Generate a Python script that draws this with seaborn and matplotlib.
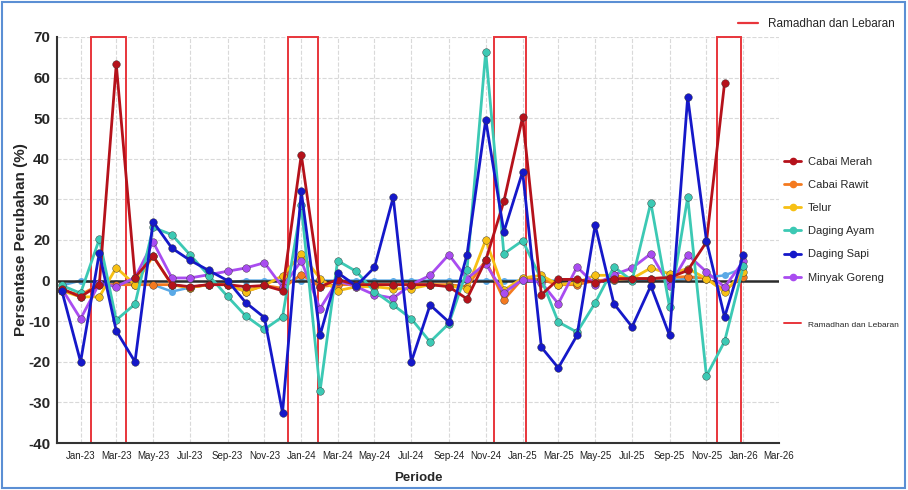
import numpy as np
import pandas as pd
import matplotlib
matplotlib.use("Agg")
import matplotlib.pyplot as plt
import matplotlib.dates as mdates
from matplotlib.lines import Line2D
from matplotlib.patches import Rectangle
import seaborn as sns

# =========================
#  Data (perubahan bulanan, %)
# =========================
bulan = pd.date_range("2022-12-01", "2026-01-01", freq="MS")

cabai_merah = [-2, -4, -1, 63.3, 1.5, 12, -1, -1.5, -1, -1, -1.5, -1.2, -2.5,
               41, -1.5, 0.5, -1, -1, -1, -1, -1, -1.5, -4.5, 10, 29.5,
               50.3, -3.5, 0.6, 0.6, -0.5, 1, 1, 1, 1.5, 5, 19, 58.7, np.nan]
cabai_rawit = [-2.5, -3.5, -1, -1, -1, -1, -1, -1.7, -1, -1, -2.7, -1.2, -1.9,
               3, -1.5, -1, -1, -1, -1, -1, -1, -1, -1.5, 10, -4.7,
               1, 0.5, -1, -1, 0, 0.5, 1, 1, 1.5, 2, 1, -2.4, 2]
telur = [-2.5, -4, -4, 6.4, -1, 12.1, -1.1, -1.7, -1, -1, -2.7, -1.2, 2.4,
         13.2, 1, -2.5, -1.5, -1.5, -2, -2, -1, -1.3, -2, 20, -2.4,
         1.3, 2.6, -1, -0.5, 2.6, 2.6, 1, 6.2, 3.4, 5.9, 1, -2.8, 4.3]
daging_ayam = [-1.2, -3.1, 20.2, -9.7, -5.8, 23.1, 21.3, 12.7, 2.5, -3.9, -8.7, -12, -8.9,
               28.5, -27.2, 9.8, 4.5, -2.7, -6, -9.4, -15.1, -10.6, 5, 66.4, 13.2,
               19.7, 0.6, -10.2, -12.7, -5.5, 6.7, 0, 29.2, -6.5, 30.5, -23.5, -15, 7]
daging_sapi = [-2.5, -20, 13.7, -12.4, -20, 24.5, 16, 10, 5, 0, -5.4, -9.1, -32.5,
               32, -13.5, 3.9, -1.3, 6.5, 30.5, -20, -6, -10.2, 12.7, 49.6, 22,
               36.8, -16.4, -21.5, -13.5, 23.7, -5.7, -11.4, -1.3, -13.5, 55.2, 19.7, -9, 12.7]
minyak_goreng = [-2, -9.4, -0.7, -1.5, 1.5, 19, 1.3, 1.3, 2.9, 4.6, 6.2, 8.8, -1.6,
                 9.7, -6.9, 0, -1.5, -3.5, -4.3, -1, 2.6, 12.8, 1, 8.3, -3,
                 0.5, -0.5, -5.7, 6.7, -1, 2.9, 6.2, 13.2, -1.3, 12.7, 4.3, -1.6, 9.5]
# garis biru muda tanpa label di legenda
lainnya = [-1.2, 0, -0.5, -0.5, -1, -1, -2.7, -1.7, -1, -0.5, 0, 0, 0,
           0, 0, 0, 0, 0, 0, 0, 0, 0, 0, 0, 0,
           0, 0, 0, 0, 0, 0, 0, 0, 0, 1, 1.5, 2.6, 6]

ramadhan = [("2023-01-18", "2023-03-17"), ("2023-12-10", "2024-01-28"),
            ("2024-11-14", "2025-01-07"), ("2025-11-18", "2025-12-28")]

series = {
    "Cabai Merah": cabai_merah,
    "Cabai Rawit": cabai_rawit,
    "Telur": telur,
    "Daging Ayam": daging_ayam,
    "Daging Sapi": daging_sapi,
    "Minyak Goreng": minyak_goreng,
}
colors = {
    "Cabai Merah": "#b5121b",
    "Cabai Rawit": "#f47a1f",
    "Telur": "#f7c014",
    "Daging Ayam": "#3cc9b4",
    "Daging Sapi": "#1518c9",
    "Minyak Goreng": "#a94cf0",
    "lainnya": "#5aa9e6",
}

df = pd.DataFrame({"bulan": np.tile(bulan, len(series)),
                   "komoditas": np.repeat(list(series), len(bulan)),
                   "nilai": np.concatenate([series[k] for k in series])})

# =========================
#  Plot
# =========================
sns.set_style("white")
plt.rcParams["font.family"] = ["Liberation Sans", "DejaVu Sans"]

fig = plt.figure(figsize=(9.08, 4.90), dpi=100)
ax = fig.add_axes([57 / 908, 47 / 490, 722 / 908, 406 / 490])


# the 0..20 band of the y axis is drawn at half scale, as in the source chart
def fwd(v):
    v = np.asarray(v, dtype=float)
    return np.where(v <= 0, v, np.where(v <= 20, v / 2, v - 10))


def inv(u):
    u = np.asarray(u, dtype=float)
    return np.where(u <= 0, u, np.where(u <= 10, u * 2, u + 10))


ax.set_yscale("function", functions=(fwd, inv))

for a, b in ramadhan:
    ax.axvspan(pd.Timestamp(a), pd.Timestamp(b), facecolor="none",
               edgecolor="#e8353b", lw=1.4, zorder=2, clip_on=False)

ax.axhline(0, color="#2b2b2b", lw=1.8, zorder=2.5)

sns.lineplot(x=bulan, y=lainnya, ax=ax, color=colors["lainnya"], lw=1.8,
             marker="o", markersize=5, markeredgewidth=0, zorder=2.4)

for name in ["Cabai Rawit", "Telur", "Minyak Goreng", "Daging Ayam", "Cabai Merah", "Daging Sapi"]:
    d = df[df["komoditas"] == name].dropna()
    sns.lineplot(data=d, x="bulan", y="nilai", ax=ax, color=colors[name], lw=2,
                 marker="o", markersize=5.5, markeredgecolor="#333333",
                 markeredgewidth=0.3, zorder=3)

ax.set_ylim(-40, 70)
ax.set_yticks([70, 60, 50, 40, 30, 20, 0, -10, -20, -30, -40])
ax.set_yticklabels(["70", "60", "50", "40", "30", "20", "0", "-10", "-20", "-30", "-40"])
ax.set_xlim(pd.Timestamp("2022-11-23"), pd.Timestamp("2026-03-01"))
ax.xaxis.set_major_locator(mdates.MonthLocator(bymonth=[1, 3, 5, 7, 9, 11]))
ax.xaxis.set_major_formatter(mdates.DateFormatter("%b-%y"))

ax.grid(True, ls="--", color="#d9d9d9", lw=0.8)
ax.set_axisbelow(True)
for s in ["top", "right"]:
    ax.spines[s].set_visible(False)
for s in ["left", "bottom"]:
    ax.spines[s].set_color("#333333")
    ax.spines[s].set_linewidth(1.5)
ax.tick_params(axis="y", labelsize=11, direction="inout", length=6, width=1.2,
               color="#333333", pad=2)
ax.tick_params(axis="x", labelsize=7, direction="inout", length=5, width=1,
               color="#333333", labelcolor="#222222")
for t in ax.get_yticklabels():
    t.set_fontweight("bold")

ax.set_xlabel("Periode", fontsize=9.5, fontweight="bold", labelpad=8)
ax.set_ylabel("Persentase Perubahan (%)", fontsize=11, fontweight="bold", labelpad=0)

# legends
red = Line2D([], [], color="#e8353b", lw=1.6)
fig.legend([red], ["Ramadhan dan Lebaran"], loc="upper right",
           bbox_to_anchor=(0.997, 0.985), frameon=False, fontsize=8.5,
           handlelength=1.7)

handles = [Line2D([], [], color=colors[k], lw=2, marker="o", markersize=4.5) for k in series]
labels = list(series)
handles += [Line2D([], [], color="none"), Line2D([], [], color="#e8353b", lw=1.4)]
labels += [" ", "Ramadhan dan Lebaran"]
leg = fig.legend(handles, labels, loc="upper left", bbox_to_anchor=(0.852, 0.70),
                 frameon=False, fontsize=8, labelspacing=1.18, handlelength=1.6,
                 handletextpad=0.6)
leg.get_texts()[-1].set_fontsize(6)

fig.add_artist(Rectangle((0.002, 0.004), 0.995, 0.992, transform=fig.transFigure,
                         fill=False, edgecolor="#5b8fd4", lw=1.5))

fig.savefig("out.png", dpi=100)
plt.close(fig)
